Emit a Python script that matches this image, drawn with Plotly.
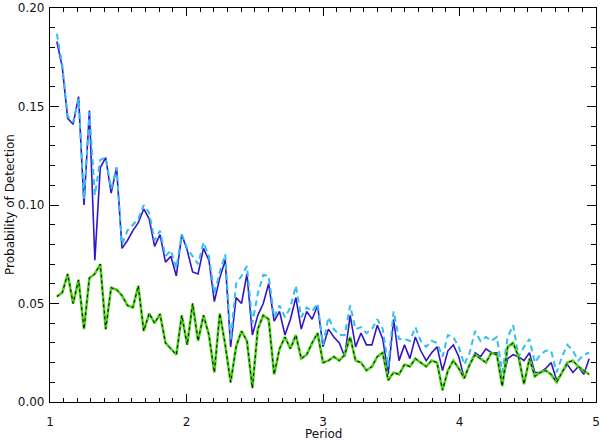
import numpy as np
import plotly.graph_objects as go

period = np.linspace(1.05, 4.95, 99)

blue_solid = [0.183, 0.170, 0.144, 0.141, 0.155, 0.100, 0.148, 0.072, 0.119, 0.124,
              0.106, 0.119, 0.078, 0.082, 0.087, 0.091, 0.098, 0.093, 0.079, 0.085,
              0.071, 0.074, 0.064, 0.085, 0.077, 0.066, 0.065, 0.078, 0.072, 0.051,
              0.063, 0.072, 0.028, 0.053, 0.050, 0.065, 0.034, 0.044, 0.050, 0.060,
              0.041, 0.046, 0.034, 0.042, 0.053, 0.037, 0.046, 0.042, 0.049, 0.028,
              0.037, 0.033, 0.030, 0.023, 0.044, 0.028, 0.035, 0.029, 0.029, 0.039,
              0.032, 0.014, 0.042, 0.021, 0.029, 0.022, 0.033, 0.026, 0.021, 0.025,
              0.028, 0.016, 0.026, 0.029, 0.023, 0.012, 0.019, 0.025, 0.023, 0.027,
              0.025, 0.025, 0.010, 0.022, 0.024, 0.023, 0.021, 0.025, 0.015, 0.015,
              0.017, 0.020, 0.011, 0.015, 0.019, 0.015, 0.018, 0.014, 0.022]

cyan_dashed = [0.187, 0.171, 0.145, 0.142, 0.154, 0.103, 0.147, 0.105, 0.123, 0.124,
               0.108, 0.119, 0.080, 0.087, 0.090, 0.093, 0.100, 0.096, 0.082, 0.087,
               0.074, 0.077, 0.068, 0.085, 0.078, 0.074, 0.070, 0.081, 0.074, 0.055,
               0.066, 0.075, 0.031, 0.060, 0.064, 0.069, 0.040, 0.055, 0.0645, 0.064,
               0.043, 0.049, 0.043, 0.048, 0.059, 0.043, 0.048, 0.046, 0.050, 0.029,
               0.043, 0.037, 0.034, 0.034, 0.049, 0.037, 0.038, 0.035, 0.037, 0.042,
               0.037, 0.018, 0.046, 0.032, 0.032, 0.031, 0.038, 0.031, 0.028, 0.031,
               0.030, 0.023, 0.034, 0.033, 0.028, 0.019, 0.025, 0.036, 0.031, 0.033,
               0.031, 0.033, 0.015, 0.033, 0.039, 0.023, 0.028, 0.032, 0.020, 0.024,
               0.026, 0.026, 0.015, 0.023, 0.029, 0.026, 0.021, 0.024, 0.025]

green_solid = [0.0535, 0.0555, 0.065, 0.050, 0.062, 0.037, 0.063, 0.065, 0.070, 0.037,
               0.058, 0.057, 0.054, 0.049, 0.048, 0.059, 0.036, 0.045, 0.040, 0.0447,
               0.030, 0.027, 0.024, 0.044, 0.029, 0.050, 0.031, 0.044, 0.034, 0.015,
               0.045, 0.029, 0.010, 0.028, 0.036, 0.031, 0.007, 0.037, 0.044, 0.042,
               0.014, 0.027, 0.033, 0.027, 0.034, 0.022, 0.024, 0.030, 0.035, 0.020,
               0.021, 0.023, 0.021, 0.024, 0.033, 0.021, 0.020, 0.016, 0.018, 0.023,
               0.025, 0.011, 0.015, 0.014, 0.019, 0.018, 0.022, 0.020, 0.018, 0.021,
               0.020, 0.006, 0.016, 0.021, 0.017, 0.012, 0.019, 0.024, 0.022, 0.020,
               0.025, 0.024, 0.008, 0.028, 0.030, 0.023, 0.009, 0.022, 0.013, 0.015,
               0.016, 0.014, 0.010, 0.015, 0.020, 0.021, 0.018, 0.016, 0.014]

black_dashed = list(green_solid)

x_ticks = [1, 2, 3, 4, 5]
y_ticks = [0.00, 0.05, 0.10, 0.15, 0.20]
y_tick_text = ["0.00", "0.05", "0.10", "0.15", "0.20"]
x_title = "Period"
y_title = "Probability of Detection"

FONT = dict(family="DejaVu Sans", size=12, color="#111111")

fig = go.Figure()
fig.add_trace(go.Scatter(x=period, y=blue_solid, mode="lines",
                         line=dict(color="#3414c8", width=1.6), showlegend=False))
fig.add_trace(go.Scatter(x=period, y=cyan_dashed, mode="lines",
                         line=dict(color="#33bdf0", width=2, dash="6px,4px"), showlegend=False))
fig.add_trace(go.Scatter(x=period, y=green_solid, mode="lines",
                         line=dict(color="#4fd41c", width=2.6), showlegend=False))
fig.add_trace(go.Scatter(x=period, y=black_dashed, mode="lines",
                         line=dict(color="#000000", width=1, dash="3px,3px"), showlegend=False))
# empty trace to create the mirrored (top/right) tick axes
fig.add_trace(go.Scatter(x=[], y=[], xaxis="x2", yaxis="y2", showlegend=False,
                         hoverinfo="skip"))

tick_common = dict(showgrid=False, zeroline=False, ticks="inside", tickcolor="black",
                   tickfont=FONT, automargin=False, tickwidth=1)

fig.update_layout(
    xaxis=dict(range=[1, 5], tickvals=x_ticks, ticklen=8, showline=True, linecolor="black",
               linewidth=1.2, mirror=True,
               minor=dict(dtick=0.1, ticklen=4, ticks="inside", tickcolor="black"),
               ticklabelstandoff=8, **tick_common),
    yaxis=dict(range=[0, 0.20], tickvals=y_ticks, ticktext=y_tick_text, ticklen=9,
               showline=True, linecolor="black", linewidth=1.2, mirror=True,
               minor=dict(dtick=0.01, ticklen=5, ticks="inside", tickcolor="black"),
               ticklabelstandoff=2, **tick_common),
    xaxis2=dict(range=[1, 5], tickvals=x_ticks, ticklen=8, overlaying="x", side="top",
                showticklabels=False, showline=False,
                minor=dict(dtick=0.1, ticklen=4, ticks="inside", tickcolor="black"),
                **tick_common),
    yaxis2=dict(range=[0, 0.20], tickvals=y_ticks, ticklen=9, overlaying="y", side="right",
                showticklabels=False, showline=False,
                minor=dict(dtick=0.01, ticklen=5, ticks="inside", tickcolor="black"),
                **tick_common),
)

fig.add_annotation(text=x_title, xref="paper", yref="paper", x=0.5, y=0,
                   xanchor="center", yanchor="top", yshift=-23, showarrow=False, font=FONT)
fig.add_annotation(text=y_title, xref="paper", yref="paper", x=0, y=0.5,
                   xanchor="right", yanchor="middle", xshift=-31, textangle=-90,
                   showarrow=False, font=FONT)

fig.update_layout(width=600, height=440, paper_bgcolor="white", plot_bgcolor="white",
                  margin=dict(l=50, r=4, t=8, b=38, autoexpand=False), showlegend=False)

fig.write_html("out.html", config={"displayModeBar": False},
               post_script="document.body.style.margin='0';")
